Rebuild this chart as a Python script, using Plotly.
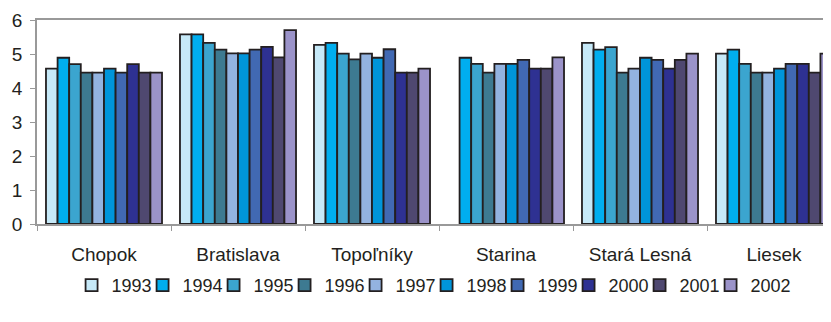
import plotly.graph_objects as go

stations = ["Chopok", "Bratislava", "Topoľníky", "Starina", "Stará Lesná", "Liesek"]
years = ["1993", "1994", "1995", "1996", "1997", "1998", "1999", "2000", "2001", "2002"]

v1993 = [4.57, 5.58, 5.27, None, 5.33, 5.01]
v1994 = [4.89, 5.58, 5.33, 4.89, 5.13, 5.13]
v1995 = [4.70, 5.33, 5.01, 4.71, 5.20, 4.71]
v1996 = [4.45, 5.13, 4.84, 4.45, 4.45, 4.45]
v1997 = [4.45, 5.02, 5.01, 4.71, 4.57, 4.45]
v1998 = [4.57, 5.02, 4.89, 4.71, 4.89, 4.57]
v1999 = [4.45, 5.13, 5.14, 4.83, 4.83, 4.71]
v2000 = [4.70, 5.21, 4.45, 4.57, 4.57, 4.71]
v2001 = [4.45, 4.90, 4.45, 4.57, 4.83, 4.45]
v2002 = [4.45, 5.70, 4.57, 4.90, 5.01, 5.01]

series = [v1993, v1994, v1995, v1996, v1997, v1998, v1999, v2000, v2001, v2002]
colors = ["#C6E9F8", "#00AEEF", "#3BA5CF", "#3D7A91", "#93B3E0",
          "#0095DA", "#4169B3", "#2E3192", "#4F4870", "#9B93C9"]

font = "Liberation Sans, Arial, sans-serif"
fig = go.Figure()
for i, (yr, vals, c) in enumerate(zip(years, series, colors)):
    extra = {"legendwidth": 50} if i == len(years) - 1 else {}
    fig.add_trace(go.Bar(
        x=stations, y=vals, name=yr,
        marker=dict(color=c, line=dict(color="#231F20", width=1.8)),
        **extra,
    ))

fig.update_layout(
    width=833, height=322,
    margin=dict(l=29, r=0, t=12, b=106, autoexpand=False),
    paper_bgcolor="white", plot_bgcolor="white",
    barmode="group", bargap=0.134, bargroupgap=0,
    font=dict(family=font, size=19, color="#231F20"),
    showlegend=True,
    legend=dict(orientation="h", x=0.043, xanchor="left", y=-0.21, yanchor="top",
                font=dict(size=18, color="#231F20"),
                entrywidth=26, entrywidthmode="pixels", traceorder="normal",
                itemclick=False),
)
fig.update_xaxes(
    range=[-0.5, 5.5], showline=True, linecolor="#999999", linewidth=1.5,
    mirror=True, ticks="outside", tickson="boundaries", ticklen=5,
    tickcolor="#999999", showgrid=False, ticklabelstandoff=12, automargin=False,
    tickfont=dict(size=19, color="#231F20"),
)
fig.update_yaxes(
    range=[0, 6], dtick=1, showline=True, linecolor="#999999", linewidth=1.5,
    ticks="outside", ticklen=5, tickcolor="#999999", showgrid=False,
    zeroline=False, automargin=False, ticklabelstandoff=4,
    tickfont=dict(size=19, color="#231F20"),
)

fig.write_html("out.html")
